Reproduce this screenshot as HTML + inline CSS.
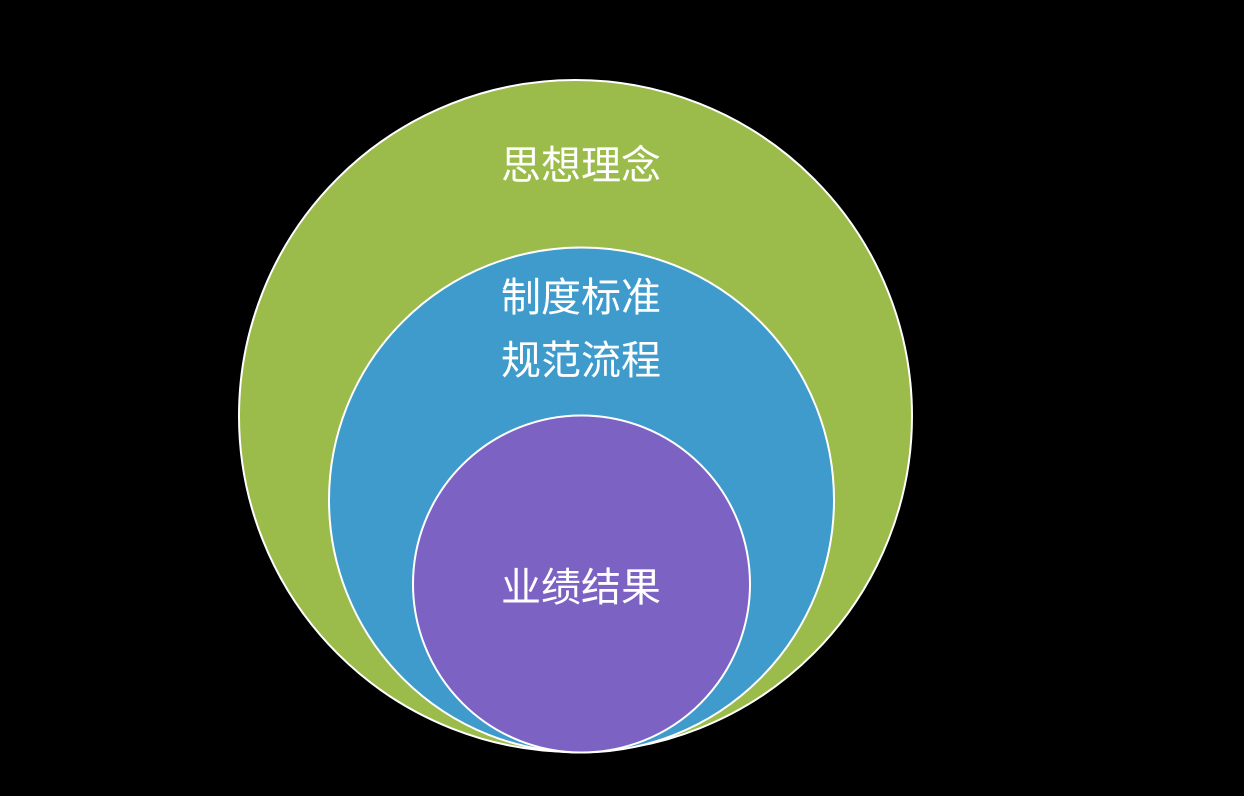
<!DOCTYPE html>
<html><head><meta charset="utf-8"><style>
html,body{margin:0;padding:0;background:#000;}
svg{display:block;}
text{font-family:"Liberation Sans","Noto Sans CJK SC",sans-serif;fill:#fff;font-size:40px;text-anchor:middle;dominant-baseline:central;}
</style></head><body>
<svg width="1244" height="796" viewBox="0 0 1244 796">
<rect width="1244" height="796" fill="#000"/>
<ellipse cx="575.5" cy="416" rx="336.5" ry="336" fill="#9BBB4B" stroke="#fff" stroke-width="2"/>
<circle cx="581.5" cy="500" r="252.5" fill="#3F9BCC" stroke="#fff" stroke-width="2"/>
<circle cx="581.5" cy="584" r="168.5" fill="#7C62C3" stroke="#fff" stroke-width="2"/>
<text x="581" y="166">思想理念</text>
<text x="581" y="298">制度标准</text>
<text x="581" y="361">规范流程</text>
<text x="581" y="588">业绩结果</text>
</svg>
</body></html>
